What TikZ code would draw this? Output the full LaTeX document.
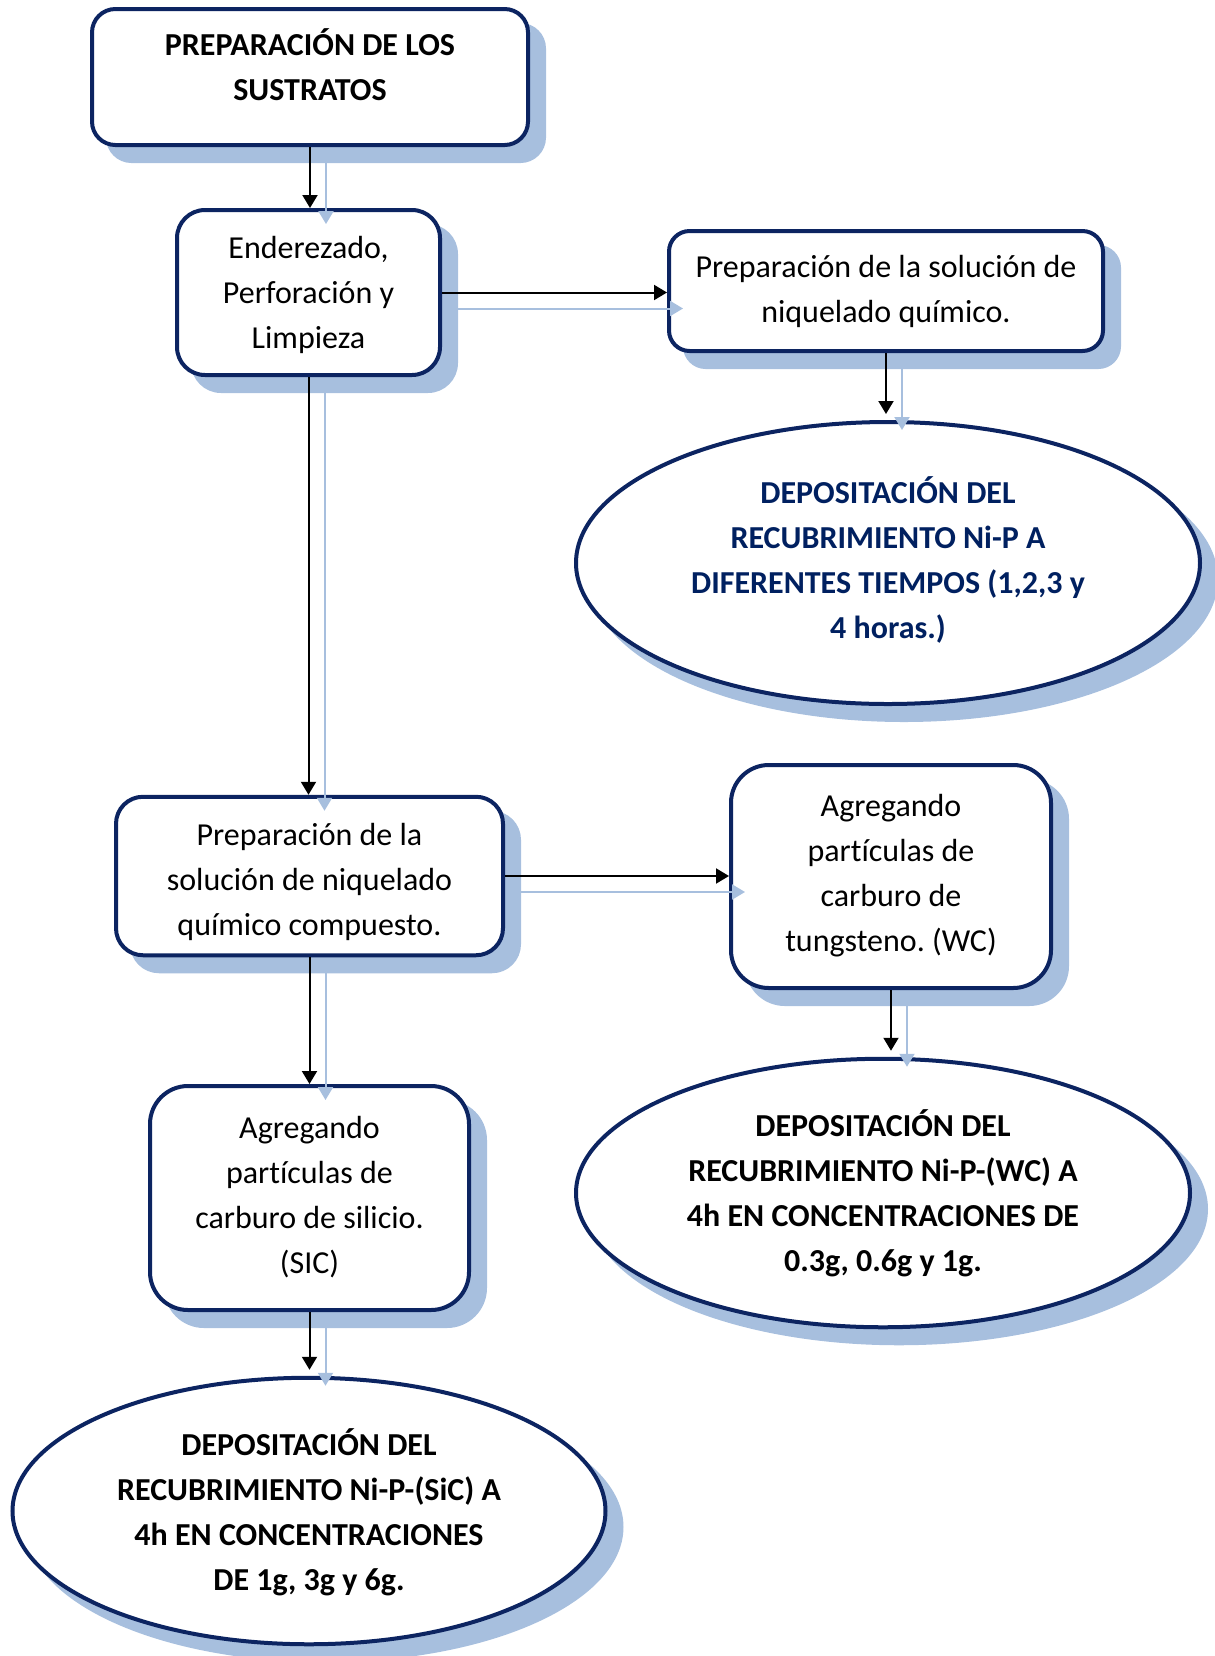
\documentclass[tikz,border=0pt]{standalone}
\usepackage{fontspec}
\setmainfont{Carlito}[Ligatures=NoCommon]
\frenchspacing
\usetikzlibrary{arrows.meta,shapes.geometric,shadows,calc}
\definecolor{navy}{HTML}{0C2461}
\definecolor{navytext}{HTML}{002060}
\definecolor{shade}{HTML}{A7BFDE}

\tikzset{
  shapebase/.style={line width=2pt, draw=navy, fill=white, inner sep=0pt,
    copy shadow={shadow xshift=8pt, shadow yshift=-8pt, opacity=1, fill=shade, draw=shade}},
  box/.style={shapebase, rectangle, rounded corners=#1},
  oval/.style={shapebase, ellipse},
  txt/.style={text width=320pt, align=flush center, inner sep=0pt, anchor=base,
    font=\fontsize{16pt}{22.5pt}\selectfont},
  txtb/.style={txt, font=\fontsize{16pt}{22.5pt}\selectfont\bfseries},
  flow/.style={line width=1pt, -{Triangle[width=7.5pt,length=6.5pt]}},
  flowshade/.style={draw=shade, line width=1pt, -{Triangle[width=7.5pt,length=6.5pt]}},
}

\begin{document}
\begin{tikzpicture}[x=0.5pt, y=-0.5pt]
\useasboundingbox (0,0) rectangle (1215,1656);

% boxes and ovals
\node[box=11.7pt, minimum width=218pt, minimum height=68pt] (n1) at (310,77) {};
\node[box=14pt, minimum width=131.5pt, minimum height=82.5pt] (n2) at (308.5,292.5) {};
\node[box=10.3pt, minimum width=217pt, minimum height=60pt] (n3) at (886,291) {};
\node[oval, minimum width=312pt, minimum height=141pt] (e1) at (888,563) {};
\node[box=13.5pt, minimum width=193.5pt, minimum height=79.25pt] (n4) at (309.5,876) {};
\node[box=18.9pt, minimum width=160pt, minimum height=111.5pt] (n5) at (891,876.5) {};
\node[oval, minimum width=307pt, minimum height=134.25pt] (e2) at (883,1193) {};
\node[box=19pt, minimum width=159.5pt, minimum height=112pt] (n6) at (309.5,1198) {};
\node[oval, minimum width=296.5pt, minimum height=133.25pt] (e3) at (309,1511) {};

% texts
\node[txtb] (t1) at (310,55) {PREPARACIÓN DE LOS\\SUSTRATOS};
\node[txt] (t2) at (308.5,258) {Enderezado,\\Perforación y\\Limpieza};
\node[txt] (t3) at (886,277) {Preparación de la solución de\\niquelado químico.};
\node[txtb, text=navytext] (t4) at (888,503) {DEPOSITACIÓN DEL\\RECUBRIMIENTO Ni-P A\\DIFERENTES TIEMPOS (1,2,3 y\\4 horas.)};
\node[txt] (t5) at (309.5,845) {Preparación de la\\solución de niquelado\\químico compuesto.};
\node[txt] (t6) at (891,816) {Agregando\\partículas de\\carburo de\\tungsteno. (WC)};
\node[txtb] (t7) at (883,1136) {DEPOSITACIÓN DEL\\RECUBRIMIENTO Ni-P-(WC) A\\4h EN CONCENTRACIONES DE\\0.3g, 0.6g y 1g.};
\node[txt] (t8) at (309.5,1138) {Agregando\\partículas de\\carburo de silicio.\\(SIC)};
\node[txtb] (t9) at (309,1455) {DEPOSITACIÓN DEL\\RECUBRIMIENTO Ni-P-(SiC) A\\4h EN CONCENTRACIONES\\DE 1g, 3g y 6g.};

% shadow copies of the connectors
\draw[flowshade] ($(n1.south)+(8pt,-8pt)$) -- ($(n1.south |- n2.north)+(8pt,-8pt)$);
\draw[flowshade] ($(n2.east)+(8pt,-8pt)$) -- ($(n2.east -| n3.west)+(8pt,-8pt)$);
\draw[flowshade, shorten >=3pt] ($(n3.south)+(8pt,-8pt)$) -- ($(n3.south |- e1.north)+(8pt,-8pt)$);
\draw[flowshade] ($(n2.south)+(8pt,-8pt)$) -- ($(n2.south |- n4.north)+(8pt,-8pt)$);
\draw[flowshade] ($(n4.east)+(8pt,-8pt)$) -- ($(n4.east -| n5.west)+(8pt,-8pt)$);
\draw[flowshade, shorten >=3pt] ($(n5.south)+(8pt,-8pt)$) -- ($(n5.south |- e2.north)+(8pt,-8pt)$);
\draw[flowshade] ($(n4.south)+(8pt,-8pt)$) -- ($(n4.south |- n6.north)+(8pt,-8pt)$);
\draw[flowshade, shorten >=3pt] ($(n6.south)+(8pt,-8pt)$) -- ($(n6.south |- e3.north)+(8pt,-8pt)$);

% connectors
\draw[flow] (n1.south) -- (n1.south |- n2.north);
\draw[flow] (n2.east) -- (n2.east -| n3.west);
\draw[flow, shorten >=3pt] (n3.south) -- (n3.south |- e1.north);
\draw[flow] (n2.south) -- (n2.south |- n4.north);
\draw[flow] (n4.east) -- (n4.east -| n5.west);
\draw[flow, shorten >=3pt] (n5.south) -- (n5.south |- e2.north);
\draw[flow] (n4.south) -- (n4.south |- n6.north);
\draw[flow, shorten >=3pt] (n6.south) -- (n6.south |- e3.north);
\end{tikzpicture}
\end{document}
